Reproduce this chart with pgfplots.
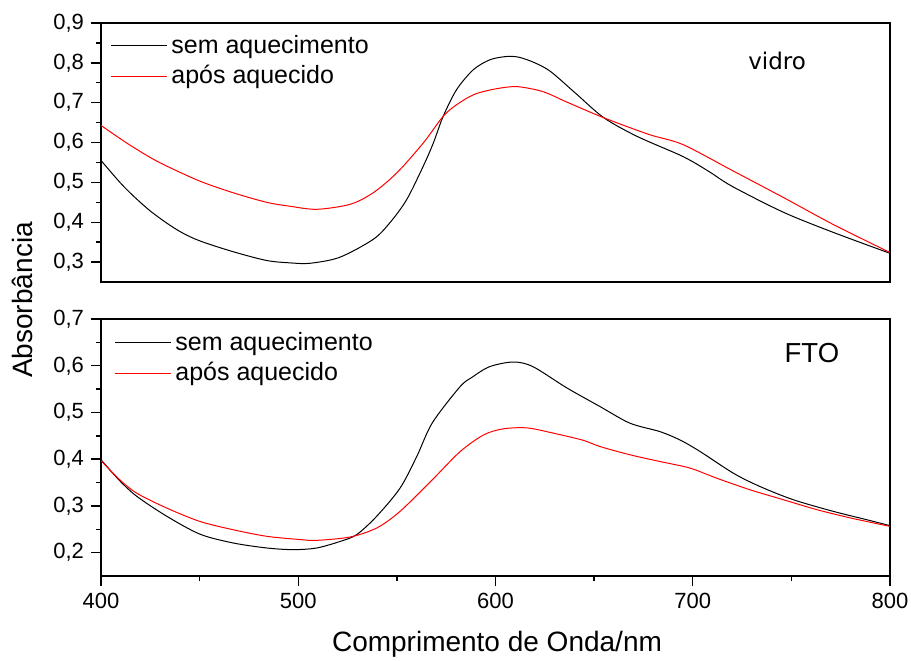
\documentclass[border=0pt]{standalone}
\usepackage{pgfplots}
\pgfplotsset{compat=1.18}
\usepackage{fontspec}
\setmainfont{Liberation Sans}
\newfontfamily\dejavu{DejaVu Sans}

% 1 px of the reference = 0.5pt
\pgfplotsset{
  panel/.style={
    scale only axis, width=394.5pt,
    xmin=400, xmax=800,
    axis line style={line width=0.8pt},
    tick style={line width=0.7pt, black},
    tick align=outside,
    major tick length=5pt, minor tick length=2.5pt,
    minor tick num=1,
    ytick pos=left, xtick pos=bottom,
    /pgf/number format/assume math mode=true,
    /pgf/number format/use comma,
    /pgf/number format/fixed,
    /pgf/number format/fixed zerofill,
    /pgf/number format/precision=1,
    ticklabel style={font=\fontsize{11}{13}\selectfont},
    legend style={draw=none, fill=none, at={(0.0,1.0)}, anchor=north west,
      font=\fontsize{12.5}{15}\selectfont, row sep=0.5pt,
      inner xsep=2pt, inner ysep=2pt},
    legend cell align=left,
    legend image code/.code={\draw[#1] (0pt,0pt) -- (28pt,0pt);},
  },
  sem/.style={black, line width=0.5pt, smooth},
  apos/.style={red, line width=0.5pt, smooth},
}

\begin{document}
\begin{tikzpicture}

\begin{axis}[panel, at={(50.5pt,-141pt)}, anchor=south west, height=129.5pt,
  ymin=0.25, ymax=0.9, ytick={0.3,0.4,...,0.9},
  xtick=\empty, minor xtick={},
  legend style={xshift=2.5pt, yshift=-2pt}]
\addplot[sem] coordinates {
(400,0.555) (409.6,0.500) (416.4,0.466) (424.8,0.429) (433.3,0.398)
(441,0.374) (450.2,0.353) (467,0.326) (484,0.304) (496,0.298) (506,0.297)
(521,0.312) (538,0.357) (546.5,0.399) (555,0.457) (563.4,0.541) (568.5,0.599)
(573.5,0.666) (580.3,0.733) (588.8,0.783) (597.3,0.808) (605.7,0.816)
(612,0.814) (620,0.800) (628,0.778) (641,0.722) (655,0.662) (672,0.615)
(695,0.565) (708,0.528) (720,0.490) (746,0.425) (771,0.375) (800,0.322)};
\addlegendentry{sem aquecimento}
\addplot[apos] coordinates {
(400,0.643) (413,0.599) (424.8,0.563) (433.3,0.541) (450.2,0.503)
(467,0.474) (484,0.450) (496,0.440) (509.4,0.4325) (526.3,0.445)
(538,0.474) (550,0.524) (563.4,0.599) (573.5,0.666) (580.3,0.695)
(588.8,0.720) (597.3,0.732) (605.7,0.739) (612,0.740) (624,0.728)
(636,0.702) (655,0.662) (678,0.620) (695,0.595) (720,0.530) (746,0.462)
(771,0.395) (800,0.324)};
\addlegendentry{após aquecido}
\node[anchor=base, font=\dejavu\fontsize{11.5}{13}\selectfont] at (rel axis cs:0.857,0.819) {vidro};
\end{axis}

\begin{axis}[panel, at={(50.5pt,-288pt)}, anchor=south west, height=128.5pt,
  ymin=0.15, ymax=0.7, ytick={0.2,0.3,...,0.7},
  xtick={400,500,...,800},
  xticklabel={\pgfmathprintnumber[fixed, precision=0]{\tick}},
  legend style={xshift=4.5pt, yshift=-2.5pt}]
\addplot[sem] coordinates {
(400,0.399) (409,0.356) (418,0.321) (433.3,0.278) (450.2,0.2395) (467,0.2207)
(484,0.210) (497.5,0.2064) (509.4,0.210) (521.2,0.224) (529.6,0.2385)
(539.8,0.278) (551.6,0.338) (560,0.405) (568,0.478) (582,0.555)
(588,0.575) (597,0.598) (609,0.608) (619,0.598) (636,0.553) (653,0.5126)
(668.2,0.477) (683.4,0.459) (693.6,0.441) (703.7,0.4165) (720.6,0.370)
(734,0.3417) (751,0.3132) (771.3,0.2883) (788.2,0.2705) (800,0.2577)};
\addlegendentry{sem aquecimento}
\addplot[apos] coordinates {
(400,0.397) (409,0.358) (418,0.3276) (433.3,0.2955) (450,0.267) (467,0.249) (484,0.235)
(501,0.228) (509.4,0.2263) (526.3,0.2335) (539.8,0.2528) (551.6,0.2883)
(568,0.356) (582,0.416) (594,0.452) (604,0.465) (616,0.467) (628,0.457)
(644,0.441) (653,0.4271) (668.2,0.4094) (683.4,0.395) (698.6,0.381)
(712,0.3596) (729,0.3346) (746,0.3132) (763,0.2919) (780,0.2742)
(800,0.2562)};
\addlegendentry{após aquecido}
\node[anchor=base, font=\fontsize{13.75}{16}\selectfont] at (rel axis cs:0.901,0.829) {FTO};
\end{axis}

\node[rotate=90, anchor=center, font=\fontsize{14}{17}\selectfont] at (11pt,-150pt) {Absorbância};
\node[anchor=base, font=\fontsize{14}{17}\selectfont] at (248.5pt,-325.5pt) {Comprimento de Onda/nm};

\pgfresetboundingbox
\useasboundingbox (0pt,0pt) rectangle (455.5pt,-330pt);
\end{tikzpicture}
\end{document}
